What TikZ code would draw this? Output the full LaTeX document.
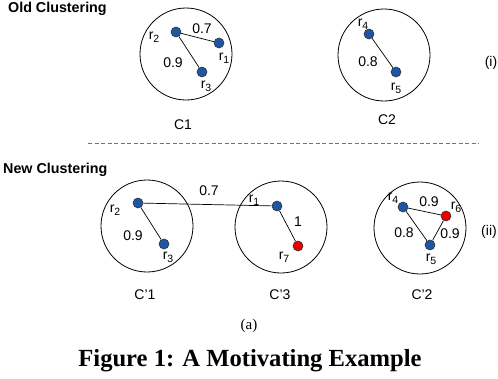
\documentclass[tikz,border=0pt]{standalone}
\usepackage{fontspec}
\setmainfont{Liberation Sans}
\newfontfamily\capfont{Liberation Serif}
\usepackage{xcolor}
\usepackage{tikz}
\usetikzlibrary{positioning}
\definecolor{ptblue}{RGB}{30,85,165}
\definecolor{ptred}{RGB}{235,0,0}
\newcommand{\rsub}[1]{r\raisebox{-0.45ex}{\fontsize{10.5}{11}\selectfont #1}}
\tikzset{
  clus/.style={circle, draw, line width=0.8pt, minimum size=92pt, inner sep=0pt},
  pt/.style={circle, draw=black!80, line width=0.6pt, fill=ptblue, minimum size=10pt, inner sep=0pt},
  newpt/.style={pt, fill=ptred},
  lnk/.style={line width=0.7pt},
  lbl/.style={inner sep=0pt, font=\fontsize{14}{16}\selectfont},
  head/.style={inner sep=0pt, anchor=west, font=\fontsize{14.3}{16}\selectfont\bfseries},
}

\begin{document}
\begin{tikzpicture}[x=1pt, y=-1pt]
  \useasboundingbox (0,0) rectangle (498,378);
  % old clustering (top)
  \node[head] (oldh) at (8,9) {Old Clustering};
  \node[clus] (c1) at (186,54) {};
  \node[pt] (a2) at (176,32) {};
  \node[pt] (a1) at (219,43) {};
  \node[pt] (a3) at (202,72) {};
  \draw[lnk] (a2)--(a1); \draw[lnk] (a2)--(a3);
  \node[lbl] (la2) at (154,37) {\rsub{2}};
  \node[lbl] (la1) at (224,58) {\rsub{1}};
  \node[lbl] (la3) at (206,86) {\rsub{3}};
  \node[lbl] (wa21) at (202,29) {0.7};
  \node[lbl] (wa23) at (173,63) {0.9};
  \node[lbl] (nc1) at (183,125) {C1};
  \node[clus] (c2) at (384,55) {};
  \node[pt] (a4) at (369,34) {};
  \node[pt] (a5) at (396,72) {};
  \draw[lnk] (a4)--(a5);
  \node[lbl] (la4) at (363,24) {\rsub{4}};
  \node[lbl] (la5) at (396,88) {\rsub{5}};
  \node[lbl] (wa45) at (368,62) {0.8};
  \node[lbl] (nc2) at (387,120) {C2};
  \node[lbl] (tagi) at (491,63) {(i)};
  % separator
  \coordinate (sepl) at (88,143); \coordinate (sepr) at (479,143);
  \draw[black!55, line width=0.8pt, dash pattern=on 4pt off 2.5pt] (sepl)--(sepr);
  % new clustering (bottom)
  \node[head] (newh) at (3,170) {New Clustering};
  \node[clus] (d1) at (147,226) {};
  \node[pt] (b2) at (138,203) {};
  \node[pt] (b3) at (164,244) {};
  \node[clus] (d3) at (281,227) {};
  \node[pt] (b1) at (277,206) {};
  \node[newpt] (b7) at (298,246) {};
  \node[clus] (d2) at (420,228) {};
  \node[pt] (b4) at (403,207) {};
  \node[newpt] (b6) at (446,216) {};
  \node[pt] (b5) at (430,245) {};
  \draw[lnk] (b2)--(b3); \draw[lnk] (b2)--(b1); \draw[lnk] (b1)--(b7);
  \draw[lnk] (b4)--(b6); \draw[lnk] (b4)--(b5); \draw[lnk] (b6)--(b5);
  \node[lbl] (lb2) at (115,210) {\rsub{2}};
  \node[lbl] (lb3) at (168,257) {\rsub{3}};
  \node[lbl] (wb23) at (133,236) {0.9};
  \node[lbl] (wb21) at (209,191) {0.7};
  \node[lbl] (lb1) at (254,200) {\rsub{1}};
  \node[lbl] (lb7) at (284,257) {\rsub{7}};
  \node[lbl] (wb17) at (298,222) {1};
  \node[lbl] (lb4) at (393,198) {\rsub{4}};
  \node[lbl] (lb6) at (456,207) {\rsub{6}};
  \node[lbl] (lb5) at (431,259) {\rsub{5}};
  \node[lbl] (wb46) at (429,202) {0.9};
  \node[lbl] (wb45) at (404,233) {0.8};
  \node[lbl] (wb65) at (450,234) {0.9};
  \node[lbl] (nd1) at (145,295) {C'1};
  \node[lbl] (nd3) at (280,295) {C'3};
  \node[lbl] (nd2) at (422,295) {C'2};
  \node[lbl] (tagii) at (489,232) {(ii)};
  % caption
  \node[inner sep=0pt, font=\capfont\fontsize{15}{17}\selectfont] (suba) at (249,326) {(a)};
  \node[inner sep=0pt, font=\capfont\fontsize{24.6}{28}\selectfont\bfseries] (cap) at (250,361) {Figure 1: A Motivating Example};
\end{tikzpicture}
\end{document}
